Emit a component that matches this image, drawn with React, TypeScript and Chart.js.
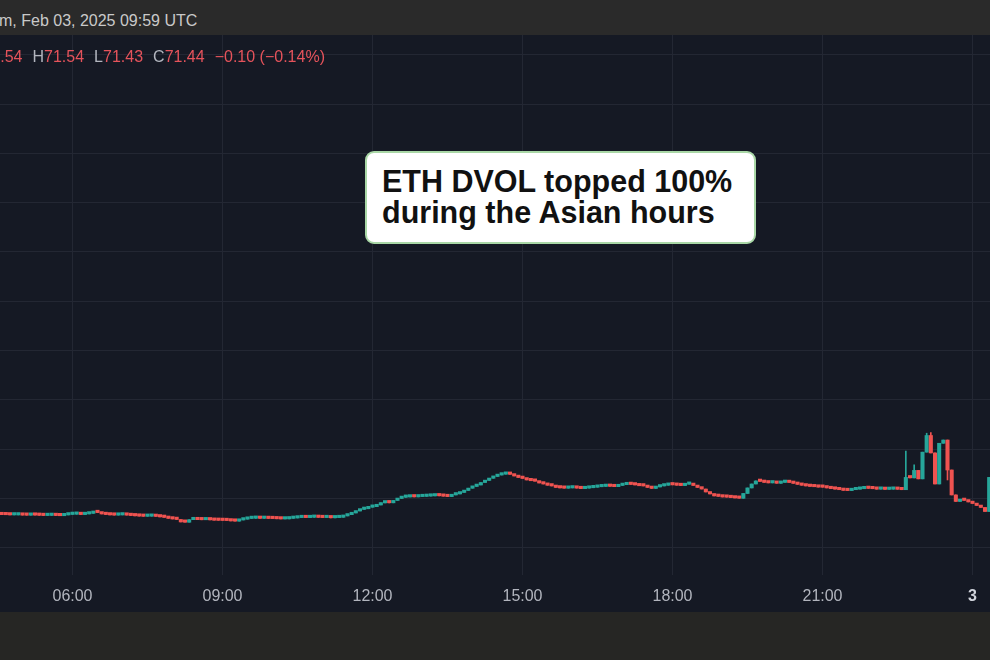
import React, { useEffect, useRef } from 'react';
import { Chart, registerables } from 'chart.js';

Chart.register(...registerables);

// ---------- data ----------
const headerText = 'm, Feb 03, 2025 09:59 UTC';
const ohlcLabels = ['O', 'H', 'L', 'C'];
const ohlcValues = ['71.54', '71.54', '71.43', '71.44'];
const changeText = '\u22120.10 (\u22120.14%)';
const annotationLines = ['ETH DVOL topped 100%', 'during the Asian hours'];

const firstCandleTime = '04:35';
const candleMinutes = 5;
const firstOpen = 63.36;
const closes = [
  63.35, 63.34, 63.32, 63.32, 63.33, 63.30, 63.29, 63.31, 63.30, 63.28,
  63.26, 63.27, 63.29, 63.26, 63.24, 63.32, 63.37, 63.39, 63.40, 63.36,
  63.42, 63.48, 63.62, 63.56, 63.42, 63.36, 63.32, 63.30, 63.32, 63.33,
  63.30, 63.26, 63.23, 63.20, 63.18, 63.19, 63.22, 63.17, 63.12, 63.07,
  62.97, 62.91, 62.86, 62.61, 62.58, 62.84, 62.85, 62.84, 62.83, 62.84,
  62.82, 62.78, 62.77, 62.76, 62.75, 62.71, 62.69, 62.81, 62.89, 62.96,
  62.98, 62.99, 62.97, 62.98, 62.96, 62.95, 62.93, 62.91, 62.92, 62.97,
  63.01, 63.05, 63.06, 63.05, 63.08, 63.09, 63.07, 63.05, 63.07, 63.03,
  63.05, 63.08, 63.22, 63.35, 63.52, 63.72, 63.88, 63.95, 64.10, 64.16,
  64.33, 64.54, 64.59, 64.55, 64.79, 64.99, 65.11, 65.14, 65.16, 65.15,
  65.18, 65.20, 65.23, 65.25, 65.29, 65.26, 65.22, 65.18, 65.35, 65.45,
  65.60, 65.80, 66.03, 66.21, 66.36, 66.61, 66.82, 67.04, 67.22, 67.37,
  67.45, 67.47, 67.44, 67.27, 67.12, 67.02, 66.87, 66.79, 66.74, 66.56,
  66.46, 66.33, 66.26, 66.11, 66.06, 66.03, 66.06, 66.09, 66.04, 65.99,
  66.04, 66.08, 66.13, 66.18, 66.21, 66.26, 66.22, 66.19, 66.31, 66.39,
  66.44, 66.41, 66.36, 66.28, 66.26, 66.11, 66.01, 66.16, 66.26, 66.33,
  66.38, 66.37, 66.33, 66.30, 66.43, 66.46, 66.31, 66.11, 65.95, 65.65,
  65.45, 65.25, 65.20, 65.14, 65.12, 65.08, 65.04, 65.01, 65.50, 66.06,
  66.46, 66.77, 66.72, 66.62, 66.57, 66.59, 66.53, 66.62, 66.67, 66.61,
  66.52, 66.42, 66.33, 66.26, 66.21, 66.18, 66.14, 66.13, 66.06, 65.99,
  65.94, 65.88, 65.81, 65.79, 65.88, 65.93, 65.98, 66.03, 66.01, 65.98,
  65.93, 65.94, 65.91, 65.93, 65.94, 65.92, 65.88, 67.13, 67.08, 67.84,
  66.98, 69.69, 71.38, 69.61, 66.46, 70.59, 70.92, 67.88, 65.35, 64.69,
  64.84, 64.79, 64.64, 64.48, 64.28, 64.08, 63.67, 67.13,
];
const wickTimes = ['22:40', '22:50', '23:05', '23:10', '23:30'];
const wickHighs: (number | null)[] = [69.81, 68.4, 71.61, 71.68, null];
const wickLows: (number | null)[] = [null, null, null, null, 66.87];

const timeTicks = ['06:00', '09:00', '12:00', '15:00', '18:00', '21:00', '24:00'];
const timeTickLabels = ['06:00', '09:00', '12:00', '15:00', '18:00', '21:00', '3'];
const priceGrid = [60, 65, 70, 75, 80, 85, 90, 95, 100, 105, 110];
const viewStart = '04:33';
const viewEnd = '24:21';
const priceMin = 57.23;
const priceMax = 112.0;

// ---------- styles ----------
const UP = '#26a69a';
const DOWN = '#ef5350';
const BG = '#151924';
const GRID = '#232733';
const FONT = '"Liberation Sans", Arial, Helvetica, sans-serif';

const toMin = (s: string) => {
  const [h, m] = s.split(':').map(Number);
  return h * 60 + m;
};

export default function App() {
  const ref = useRef<HTMLCanvasElement | null>(null);

  useEffect(() => {
    if (!ref.current) return;
    const t0 = toMin(firstCandleTime);
    const bodies: any[] = [];
    const wicks: any[] = [];
    const colors: string[] = [];
    const wickMins = wickTimes.map(toMin);
    closes.forEach((c, i) => {
      const o = i === 0 ? firstOpen : closes[i - 1];
      const t = t0 + i * candleMinutes;
      const wi = wickMins.indexOf(t);
      let lo = Math.min(o, c);
      let hi = Math.max(o, c);
      if (wi >= 0) {
        if (wickHighs[wi] != null) hi = wickHighs[wi] as number;
        if (wickLows[wi] != null) lo = wickLows[wi] as number;
      }
      bodies.push({ x: t, y: [o, c] });
      wicks.push({ x: t, y: [lo, hi] });
      colors.push(c >= o ? UP : DOWN);
    });
    const tickVals = timeTicks.map(toMin);
    const lastTick = tickVals[tickVals.length - 1];

    const chart = new Chart(ref.current, {
      type: 'bar',
      data: {
        datasets: [
          {
            label: 'wick',
            data: wicks,
            backgroundColor: colors,
            barThickness: 1,
            grouped: false,
            order: 2,
          } as any,
          {
            label: 'body',
            data: bodies,
            backgroundColor: colors,
            barThickness: 3.4,
            minBarLength: 2.4,
            grouped: false,
            order: 1,
          } as any,
        ],
      },
      options: {
        animation: false,
        responsive: false,
        maintainAspectRatio: false,
        layout: { padding: 0 },
        plugins: { legend: { display: false }, tooltip: { enabled: false } },
        scales: {
          x: {
            type: 'linear',
            min: toMin(viewStart),
            max: toMin(viewEnd),
            offset: false,
            grid: { color: GRID, drawTicks: false, lineWidth: 1, offset: false },
            border: { display: false },
            ticks: {
              autoSkip: false,
              maxRotation: 0,
              padding: 12,
              color: (ctx: any) => (ctx.tick && ctx.tick.value === lastTick ? '#d1d4dc' : '#b2b5be'),
              font: (ctx: any) => ({
                family: FONT,
                size: 16,
                weight: ctx.tick && ctx.tick.value === lastTick ? 'bold' : 'normal',
              }),
              callback: (v: any) => {
                const i = tickVals.indexOf(Number(v));
                return i >= 0 ? timeTickLabels[i] : '';
              },
            },
            afterBuildTicks: (s: any) => {
              s.ticks = tickVals.map((v) => ({ value: v }));
            },
            afterFit: (s: any) => {
              s.height = 37;
            },
          },
          y: {
            type: 'linear',
            position: 'right',
            min: priceMin,
            max: priceMax,
            grid: { color: GRID, drawTicks: false, lineWidth: 1 },
            border: { display: false },
            ticks: { display: false },
            afterBuildTicks: (s: any) => {
              s.ticks = priceGrid.map((v) => ({ value: v }));
            },
            afterFit: (s: any) => {
              s.width = 0;
            },
          },
        },
      } as any,
    });
    return () => chart.destroy();
  }, []);

  return (
    <div
      style={{
        position: 'fixed',
        left: 0,
        top: 0,
        width: 990,
        height: 660,
        overflow: 'hidden',
        background: '#262624',
        fontFamily: FONT,
      }}
    >
      <div style={{ position: 'absolute', left: 0, top: 0, width: 990, height: 35, background: '#2a2a2a' }}>
        <div
          style={{
            position: 'absolute',
            left: -1,
            top: 12,
            fontSize: 16,
            lineHeight: '18px',
            color: '#c9c9c9',
            whiteSpace: 'nowrap',
          }}
        >
          {headerText}
        </div>
      </div>
      <div style={{ position: 'absolute', left: 0, top: 35, width: 990, height: 577, background: BG }}>
        <canvas ref={ref} width={990} height={577} style={{ display: 'block', width: 990, height: 577 }} />
      </div>
      <div
        style={{
          position: 'absolute',
          left: -30,
          top: 48,
          fontSize: 16,
          lineHeight: '18px',
          whiteSpace: 'nowrap',
          color: '#e5535b',
        }}
      >
        {ohlcLabels.map((l, i) => (
          <span key={l} style={{ marginRight: 10 }}>
            <span style={{ color: '#b2b5be' }}>{l}</span>
            {ohlcValues[i]}
          </span>
        ))}
        <span>{changeText}</span>
      </div>
      <div
        style={{
          position: 'absolute',
          left: 365,
          top: 151,
          width: 391,
          height: 93,
          boxSizing: 'border-box',
          background: '#ffffff',
          border: '2px solid #a9d7a6',
          borderRadius: 9,
          padding: '13px 0 0 15px',
          color: '#111111',
          fontWeight: 'bold',
          fontSize: 30.5,
          lineHeight: '31px',
          whiteSpace: 'nowrap',
        }}
      >
        {annotationLines.map((l) => (
          <div key={l}>{l}</div>
        ))}
      </div>
    </div>
  );
}
